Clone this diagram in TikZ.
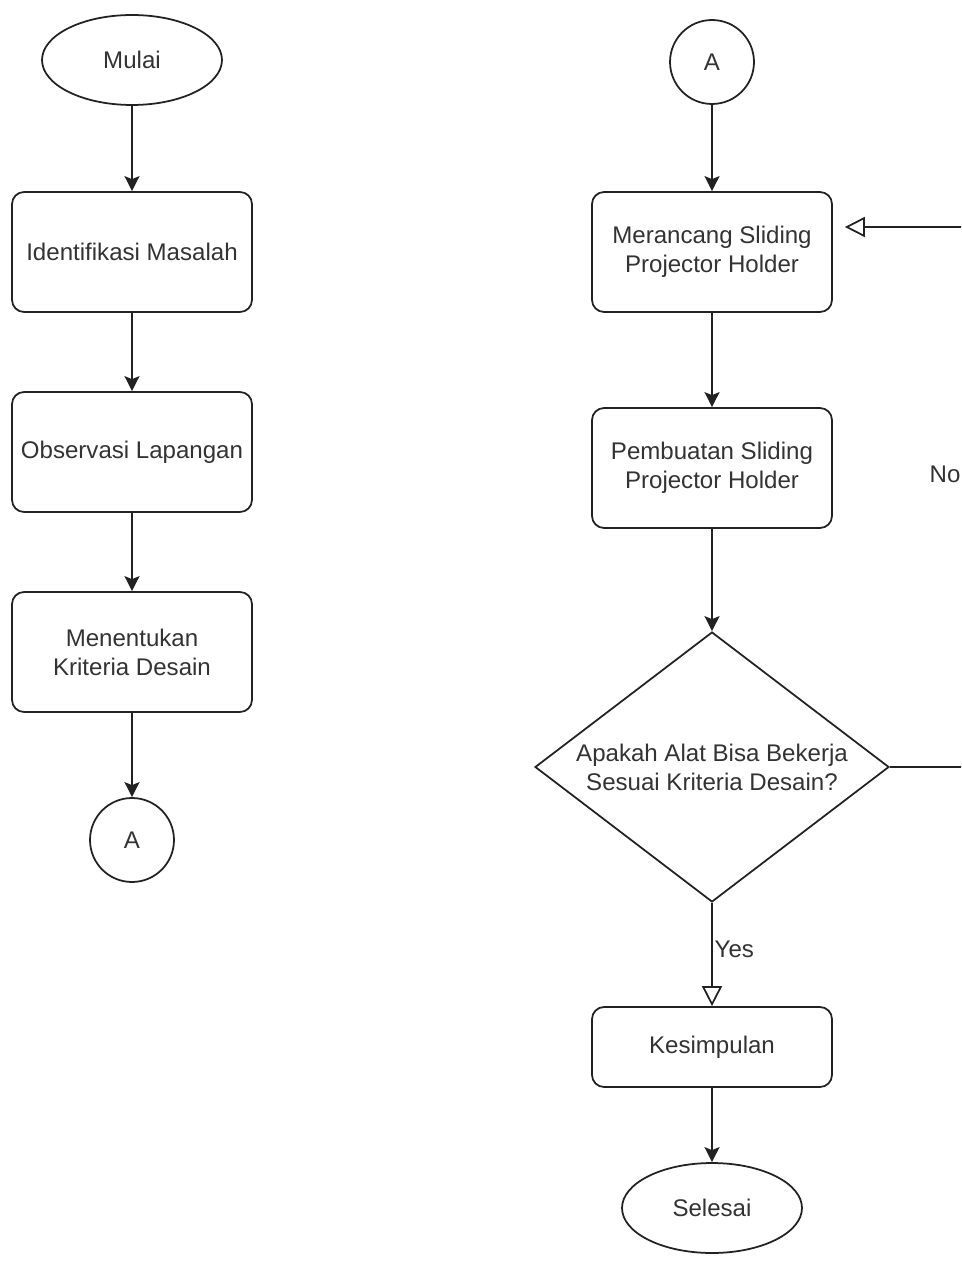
\documentclass[tikz,border=0pt]{standalone}
\usepackage{fontspec}
\setmainfont{Liberation Sans}
\usepackage{tikz}
\usetikzlibrary{shapes.geometric,arrows.meta}
\definecolor{textgrey}{HTML}{333333}
\definecolor{linegrey}{HTML}{222222}

\begin{document}
\begin{tikzpicture}[
        x=0.02cm, y=-0.02cm,
        font=\fontsize{13.7}{16.4}\selectfont,
        % every node/.style={draw},
        every node/.style={text=textgrey},
        terminal/.style={draw=linegrey, line width=1pt, ellipse, inner sep=0pt, minimum width=3.6cm, minimum height=1.8cm},
        process/.style={draw=linegrey, line width=1pt, rounded corners=0.24cm, align=center, minimum width=4.8cm, minimum height=2.4cm},
        connector/.style={draw=linegrey, line width=1pt, circle, inner sep=0pt, minimum size=1.68cm},
        decision/.style={draw=linegrey, line width=1pt, diamond, aspect=1.31, inner sep=0pt, align=center, minimum width=7.08cm, minimum height=5.4cm},
        flow/.style={draw=linegrey, line width=1pt, -{Stealth[length=0.3cm, width=0.3cm, inset=0.06cm]}},
        % open arrows for the branches
        branch/.style={draw=linegrey, line width=1pt, -{Triangle[open, length=0.4cm, width=0.4cm]}},
    ]
    \useasboundingbox (0,0) rectangle (961,1263);
    \clip (0,0) rectangle (961,1263);
    \fill[white] (0,0) rectangle (961,1263);

    % left column
    \node [terminal] (mulai) at (132,60) {Mulai};
    \node [process] (identifikasi) at (132,252) {Identifikasi Masalah};
    \node [process] (observasi) at (132,452) {Observasi Lapangan};
    \node [process] (kriteria) at (132,652) {Menentukan\\Kriteria Desain};
    \node [connector] (akhirA) at (132,840) {A};

    % right column
    \node [connector] (awalA) at (712,62) {A};
    \node [process] (merancang) at (712,252) {Merancang Sliding\\Projector Holder};
    \node [process] (pembuatan) at (712,468) {Pembuatan Sliding\\Projector Holder};
    \node [decision] (cek) at (712,767) {Apakah Alat Bisa Bekerja\\Sesuai Kriteria Desain?};
    \node [process, minimum height=1.6cm] (kesimpulan) at (712,1047) {Kesimpulan};
    \node [terminal] (selesai) at (712,1208) {Selesai};

    \draw [flow] (mulai) -- (identifikasi);
    \draw [flow] (identifikasi) -- (observasi);
    \draw [flow] (observasi) -- (kriteria);
    \draw [flow] (kriteria) -- (akhirA);

    \draw [flow] (awalA) -- (merancang);
    \draw [flow] (merancang) -- (pembuatan);
    \draw [flow] (pembuatan) -- (cek);
    \draw [branch] (cek) -- node [right, pos=0.45, inner sep=1pt] {Yes} (kesimpulan);
    \draw [flow] (kesimpulan) -- (selesai);

    % loop back when the test fails
    \coordinate (kanan) at (975,767);
    \draw [branch, shorten >=0.24cm] (cek.east) -- (kanan) |- ([yshift=0.5cm]merancang.east);
    \node (no) at (945,474) {No};
\end{tikzpicture}
\end{document}
